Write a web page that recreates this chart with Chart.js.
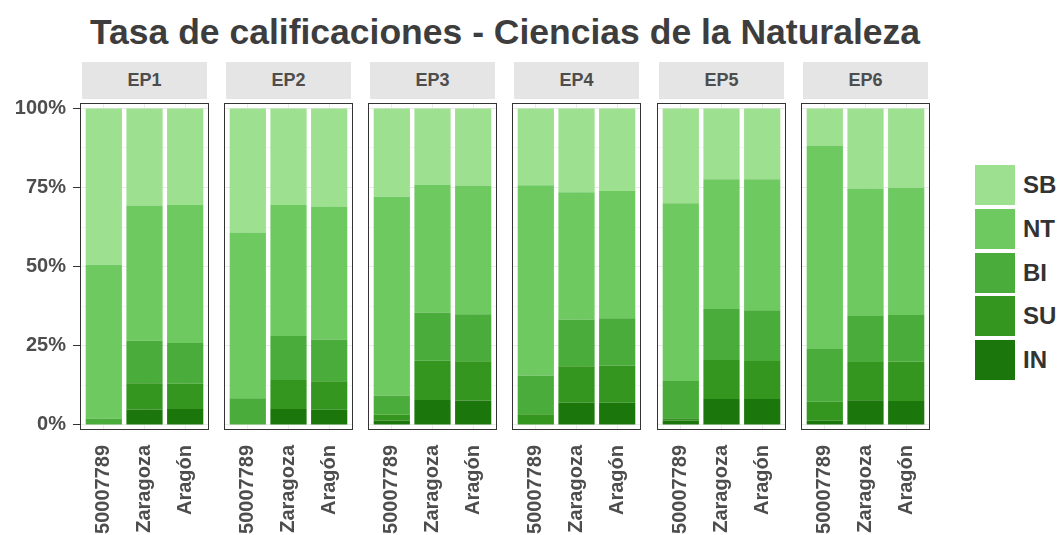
<!DOCTYPE html>
<html lang="es">
<head>
<meta charset="UTF-8">
<title>Tasa de calificaciones - Ciencias de la Naturaleza</title>
<script src="https://cdn.jsdelivr.net/npm/chart.js"></script>
<style>
  body { margin: 0; background: #fff; font-family: "Liberation Sans", Arial, sans-serif; }
  #wrap { position: relative; width: 1059px; height: 535px; overflow: hidden; }
  #title { position: absolute; left: 0; top: 12px; width: 1010px; text-align: center;
           font-size: 35.5px; line-height: 40px; font-weight: bold; color: #3d3d3d; }
  .strip { position: absolute; top: 62px; height: 37px; background: #e5e5e5;
           display: flex; align-items: center; justify-content: center;
           font-size: 18px; font-weight: bold; color: #4d4d4d; }
  canvas.panel { position: absolute; top: 100px; }
  .key { position: absolute; left: 975px; width: 40px; height: 40px; }
  .keylabel { position: absolute; left: 1023px; height: 40px; line-height: 40px;
              font-size: 24px; font-weight: bold; color: #333; }
</style>
</head>
<body>
<div id="wrap">
  <div id="title">Tasa de calificaciones - Ciencias de la Naturaleza</div>
</div>

<script>
// facets, bars in each facet, grades (bottom to top)
const panels = ['EP1', 'EP2', 'EP3', 'EP4', 'EP5', 'EP6'];
const sites = ['50007789', 'Zaragoza', 'Aragón'];
const grades = ['IN', 'SU', 'BI', 'NT', 'SB'];
const gradeColors = ['#1b770c', '#34961f', '#4aad3b', '#6ec961', '#9de08f'];
const yTicks = [0, 12.5, 25, 37.5, 50, 62.5, 75, 87.5, 100];

// percent per bar, 3 bars per facet in the order EP1..EP6
const IN = [0, 4.9, 5.0,   0, 5.0, 4.8,   1.4, 7.9, 7.7,   0, 7.0, 7.0,   1.4, 8.2, 8.2,   1.3, 7.8, 7.6];
const SU = [0, 8.3, 8.0,   0, 9.2, 9.0,   1.8, 12.4, 12.4, 3.4, 11.5, 11.8, 0.7, 12.3, 12.0, 6.0, 12.1, 12.4];
const BI = [2.0, 13.4, 12.9, 8.4, 13.9, 13.2, 6.0, 15.2, 14.9, 12.2, 14.8, 14.9, 11.8, 16.1, 16.0, 16.7, 14.5, 14.7];
const NT = [48.6, 42.7, 43.6, 52.4, 41.4, 42.0, 62.9, 40.3, 40.6, 60.1, 40.2, 40.2, 56.1, 41.0, 41.4, 64.1, 40.3, 40.2];
const SB = [49.4, 30.7, 30.5, 39.2, 30.5, 31.0, 27.9, 24.2, 24.4, 24.3, 26.5, 26.1, 30.0, 22.4, 22.4, 11.9, 25.3, 25.1];
const series = [IN, SU, BI, NT, SB];

Chart.defaults.font.family = '"Liberation Sans", Arial, sans-serif';

// frame round each facet, like a ggplot panel border
const panelBorder = {
  id: 'panelBorder',
  afterDraw(chart) {
    const a = chart.chartArea;
    const ctx = chart.ctx;
    ctx.save();
    ctx.strokeStyle = '#333';
    ctx.lineWidth = 1;
    ctx.strokeRect(Math.round(a.left) + 0.5, Math.round(a.top) + 0.5,
                   Math.round(a.right - a.left) - 1, Math.round(a.bottom - a.top) - 1);
    ctx.restore();
  }
};

const wrap = document.getElementById('wrap');

panels.forEach((name, i) => {
  const left = Math.round(80 + i * 144.15);
  const yW = i === 0 ? 80 : 3;

  const strip = document.createElement('div');
  strip.className = 'strip';
  strip.style.left = (left + 2) + 'px';
  strip.style.width = '125px';
  strip.textContent = name;
  wrap.appendChild(strip);

  const canvas = document.createElement('canvas');
  canvas.className = 'panel';
  canvas.width = yW + 129 + 3;
  canvas.height = 435;
  canvas.style.left = (left - yW) + 'px';
  wrap.appendChild(canvas);

  const datasets = grades.map((g, s) => ({
    label: g,
    data: series[s].slice(i * 3, i * 3 + 3).map((v, k) => ({ x: k + 1, y: v })),
    backgroundColor: gradeColors[s],
    borderWidth: 0,
    barPercentage: 0.89,
    categoryPercentage: 1
  }));

  new Chart(canvas, {
    type: 'bar',
    data: { datasets },
    plugins: [panelBorder],
    options: {
      responsive: false,
      animation: false,
      layout: { padding: { top: 3, right: 3, left: 0, bottom: 0 } },
      plugins: { legend: { display: false }, tooltip: { enabled: false } },
      scales: {
        x: {
          type: 'linear',
          stacked: true,
          offset: false,
          min: 0.415,
          max: 3.585,
          afterBuildTicks: s => { s.ticks = sites.map((_, k) => ({ value: k + 1 })); },
          afterFit: s => { s.height = 105; s.paddingLeft = 0; s.paddingRight = 0; },
          grid: { color: '#ebebeb', drawTicks: false, offset: false },
          border: { display: false },
          ticks: {
            autoSkip: false, maxRotation: 90, minRotation: 90, padding: 15,
            font: { size: 20, weight: 'bold' }, color: '#4d4d4d',
            callback: v => sites[v - 1]
          }
        },
        y: {
          stacked: true,
          min: -1.6,
          max: 101.7,
          afterBuildTicks: s => { s.ticks = yTicks.map(v => ({ value: v })); },
          afterFit: s => { s.width = yW; s.paddingTop = 0; s.paddingBottom = 0; },
          grid: {
            color: c => (c.tick && c.tick.value % 25 === 0) ? '#ebebeb' : '#f4f4f4',
            tickColor: c => (c.tick && c.tick.value % 25 === 0) ? '#333' : 'rgba(0,0,0,0)',
            tickLength: 7,
            drawTicks: i === 0
          },
          border: { display: false },
          ticks: {
            display: i === 0, padding: 7,
            font: { size: 20, weight: 'bold' }, color: '#4d4d4d',
            callback: v => (v % 25 === 0 ? v + '%' : '')
          }
        }
      }
    }
  });
});

// legend, top to bottom SB .. IN
grades.slice().reverse().forEach((g, k) => {
  const s = grades.length - 1 - k;
  const top = Math.round(165 + k * 43.75);
  const key = document.createElement('div');
  key.className = 'key';
  key.style.top = top + 'px';
  key.style.background = gradeColors[s];
  wrap.appendChild(key);
  const lab = document.createElement('div');
  lab.className = 'keylabel';
  lab.style.top = top + 'px';
  lab.textContent = g;
  wrap.appendChild(lab);
});
</script>
</body>
</html>
